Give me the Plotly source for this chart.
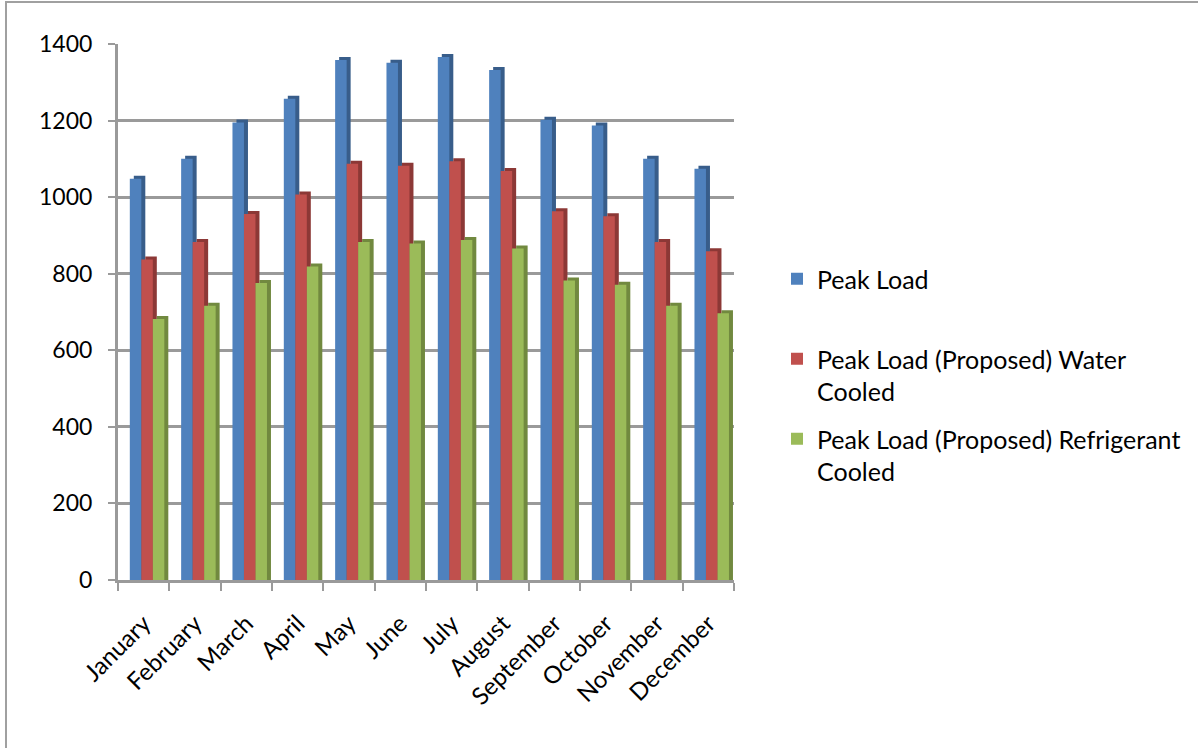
import plotly.graph_objects as go

# Monthly peak loads
months = ["January", "February", "March", "April", "May", "June",
          "July", "August", "September", "October", "November", "December"]
peak_load = [1048, 1100, 1195, 1257, 1358, 1351, 1366, 1332, 1202, 1187, 1100, 1074]
water_cooled = [837, 883, 956, 1007, 1087, 1082, 1094, 1068, 963, 950, 883, 859]
refrigerant_cooled = [682, 716, 776, 819, 883, 879, 888, 866, 782, 771, 716, 697]

# every legend entry takes two lines so the entries are spaced evenly
series_names = ["Peak Load<br>\u00a0", "Peak Load (Proposed) Water<br>Cooled",
                "Peak Load (Proposed) Refrigerant<br>Cooled"]
face_colors = ["#4F81BD", "#C0504D", "#9BBB59"]
side_colors = ["#385D8A", "#8C3836", "#71893F"]

# plot-area geometry (pixels)
W, H = 1198, 748
L, R, T, B = 118, 464, 44, 168
plot_w = W - L - R
plot_h = H - T - B
y_max = 1400
px_per_cat = plot_w / len(months)
px_per_unit = plot_h / y_max

bar_w = 11.5 / px_per_cat           # front face width, in category units
depth_x = 4.0 / px_per_cat          # side face thickness
depth_y = 3.0 / px_per_unit         # top face rise
first_offset = -0.27

fig = go.Figure()
for i, (name, vals) in enumerate(zip(series_names,
                                     [peak_load, water_cooled, refrigerant_cooled])):
    off = first_offset + i * bar_w
    group = f"s{i}"
    # side/top face giving the column some depth
    fig.add_trace(go.Bar(
        x=months, y=[v + depth_y for v in vals],
        offset=off + depth_x, width=bar_w,
        marker=dict(color=side_colors[i], line=dict(width=0)),
        showlegend=False, legendgroup=group, hoverinfo="skip",
    ))
    # front face
    fig.add_trace(go.Bar(
        x=months, y=vals, name=name,
        offset=off, width=bar_w,
        marker=dict(color=face_colors[i], line=dict(width=0)),
        legendgroup=group,
    ))

grid_col = "#9a9a9a"
fig.update_layout(
    width=W, height=H,
    margin=dict(l=L, r=R, t=T, b=B, pad=0),
    barmode="overlay",
    paper_bgcolor="white", plot_bgcolor="white",
    font=dict(family="Lato, 'Noto Sans', sans-serif", size=24, color="#000000"),
    showlegend=True,
    legend=dict(
        x=(777 - L) / plot_w, xanchor="left",
        y=(H - B - 256) / plot_h, yanchor="top",
        traceorder="grouped", tracegroupgap=12, valign="top",
        font=dict(size=25), bgcolor="rgba(0,0,0,0)",
    ),
    xaxis=dict(
        type="category", range=[-0.5, 11.5],
        tickangle=-45, tickson="boundaries",
        ticks="outside", ticklen=8, tickcolor=grid_col, tickwidth=2,
        showline=True, linecolor=grid_col, linewidth=3,
        showgrid=False, tickfont=dict(size=24), ticklabelstandoff=17,
    ),
    yaxis=dict(
        range=[0, y_max], tickvals=[0, 200, 400, 600, 800, 1000, 1200, 1400],
        ticks="outside", ticklen=7, tickcolor=grid_col, tickwidth=2,
        showline=True, linecolor=grid_col, linewidth=3,
        showgrid=True, gridcolor=grid_col, gridwidth=2.5,
        zeroline=False, ticklabelstandoff=11, tickfont=dict(size=23),
    ),
    shapes=[dict(
        type="rect", xref="paper", yref="paper",
        x0=(6 - L) / plot_w, x1=(W + 20 - L) / plot_w,
        y0=(H - B - (H + 20)) / plot_h, y1=(H - B - 2) / plot_h,
        line=dict(color="#a0a0a0", width=2), fillcolor="rgba(0,0,0,0)",
        layer="below",
    )],
)

fig.write_html("out.html")
